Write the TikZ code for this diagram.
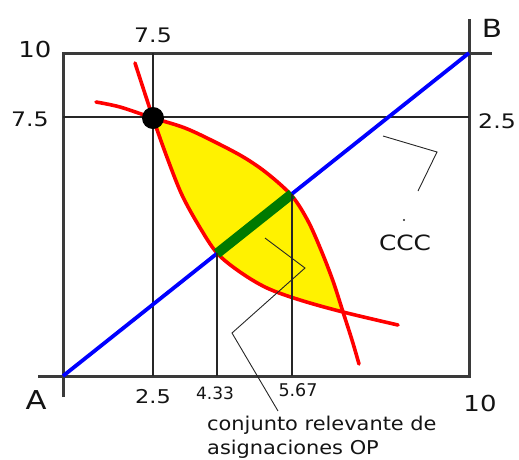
\documentclass[tikz,border=0pt]{standalone}
\usepackage{fontspec}
\usetikzlibrary{calc}
\setmainfont{DejaVu Sans}
\newfontfamily\widefont[FakeStretch=1.18]{DejaVu Sans}
\newfontfamily\midfont[FakeStretch=1.1]{DejaVu Sans}
\definecolor{txt}{HTML}{141414}
\definecolor{axisgray}{HTML}{3A3A3A}
\definecolor{darkgreen}{HTML}{007A00}
\begin{document}
\begin{tikzpicture}[x=1pt,y=-1pt,
  axisline/.style={draw=axisgray,line width=3pt},
  gridline/.style={draw=black!85,line width=1.4pt},
  redcurve/.style={draw=red,line width=3.6pt,line cap=round},
  pointer/.style={draw=black!85,line width=0.9pt},
  lbl/.style={text=txt,inner sep=0pt,font=\widefont\fontsize{20}{20}\selectfont},
  small/.style={text=txt,inner sep=0pt,font=\fontsize{17}{17}\selectfont}]
\useasboundingbox (0,0) rectangle (519,459);
% Edgeworth box axes
\coordinate (A) at (63,376);
\coordinate (B) at (469,53);
\draw[axisline] (63,397) -- (63,53) -- (492,53);
\draw[axisline] (38,376) -- (469,376) -- (469,19);
% grid lines
\coordinate (h1) at (63,117);
\coordinate (h2) at (469,117);
\coordinate (v1) at (153,53);
\coordinate (v2) at (153,376);
\draw[gridline] (h1) -- (h2);
\draw[gridline] (v1) -- (v2);
% lens fill
\begin{scope}
\clip plot[smooth,tension=0.55] coordinates {(135,63) (153,118) (168,160) (182,195) (199,226) (217,253) (240,272) (267,288) (300,300) (343,312) (398,325)} -- (600,325) -- (600,-100) -- (135,-100) -- cycle;
\fill[yellow] plot[smooth,tension=0.55] coordinates {(96,102) (120,107) (153,118) (185,128) (217,143) (245,158) (268,174) (292,196) (308,221) (321,250) (333,281) (343,312) (352,340) (359,364)} -- (359,600) -- (-100,600) -- (-100,102) -- cycle;
\end{scope}
% indifference curves
\draw[redcurve] plot[smooth,tension=0.55] coordinates {(135,63) (153,118) (168,160) (182,195) (199,226) (217,253) (240,272) (267,288) (300,300) (343,312) (398,325)};
\draw[redcurve] plot[smooth,tension=0.55] coordinates {(96,102) (120,107) (153,118) (185,128) (217,143) (245,158) (268,174) (292,196) (308,221) (321,250) (333,281) (343,312) (352,340) (359,364)};
% contract curve
\draw[blue,line width=3.8pt] (A) -- (B);
\coordinate (g1) at ($(A)!0.3793!(B)$);
\coordinate (g2) at ($(A)!0.5640!(B)$);
\draw[darkgreen,line width=10pt] (g1) -- (g2);
\coordinate (d1) at (g1 |- A);
\coordinate (d2) at (g2 |- A);
\draw[gridline] (g1) -- (d1);
\draw[gridline] (g2) -- (d2);
% endowment point
\fill[black] (153,118) circle (11);
% pointers
\coordinate (p1) at (265,238);
\coordinate (p2) at (305,268);
\coordinate (p3) at (232,333);
\coordinate (p4) at (278,411);
\draw[pointer] (p1) -- (p2) -- (p3) -- (p4);
\coordinate (c1) at (383,136);
\coordinate (c2) at (437,152);
\coordinate (c3) at (418,191);
\draw[pointer] (c1) -- (c2) -- (c3);
\fill[black!85] (404,220) circle (1.1);
% labels
\node[lbl,font=\widefont\fontsize{22}{22}\selectfont] (t10) at (35,49) {10};
\node[lbl] (t75a) at (153,35) {7.5};
\node[lbl] (t75b) at (30,119) {7.5};
\node[lbl,font=\widefont\fontsize{25}{25}\selectfont] (tB) at (492,28) {B};
\node[lbl] (t25a) at (497,121) {2.5};
\node[lbl,font=\widefont\fontsize{26}{26}\selectfont] (tA) at (36,400) {A};
\node[lbl,font=\widefont\fontsize{19}{19}\selectfont] (t25b) at (153,397) {2.5};
\node[small] (t433) at (215,393) {4.33};
\node[small,font=\fontsize{17.5}{17.5}\selectfont] (t567) at (298,390) {5.67};
\node[lbl,font=\widefont\fontsize{22}{22}\selectfont] (t10b) at (480,403) {10};
\node[lbl,font=\widefont\fontsize{21}{21}\selectfont] (tC) at (405,243) {CCC};
\node[text=txt,inner sep=0pt,anchor=west,align=left,font=\midfont\fontsize{19}{24}\selectfont] (tconj) at (207,437) {conjunto relevante de\\asignaciones OP};
\end{tikzpicture}
\end{document}
